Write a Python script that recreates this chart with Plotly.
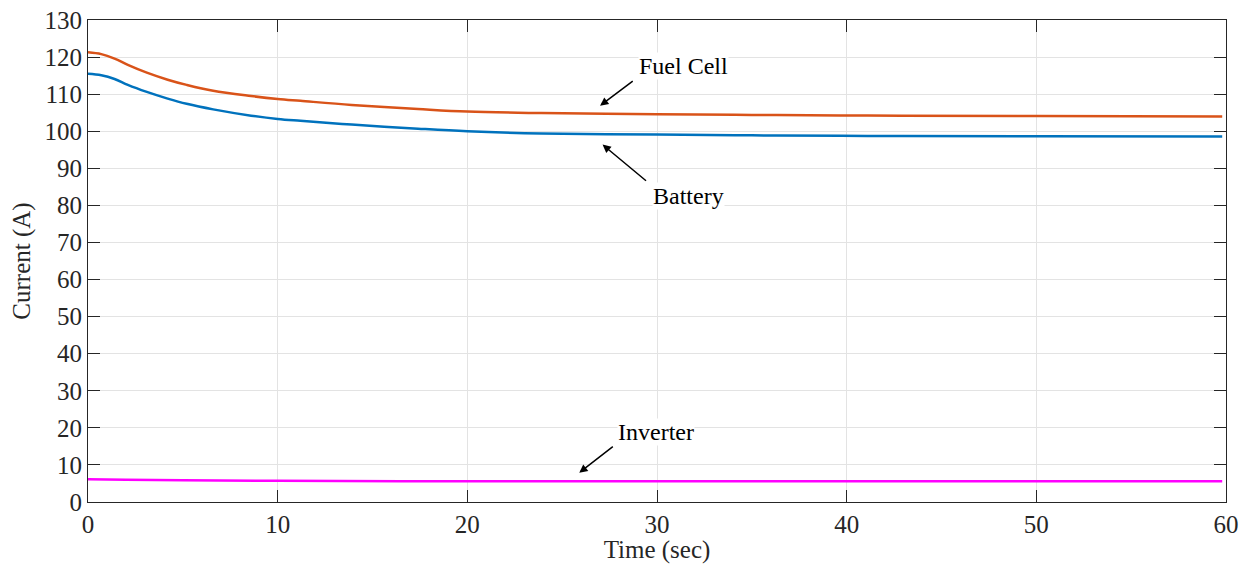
import plotly.graph_objects as go

# Data
time_fc = [0, 0.7, 1.4, 2.1, 3.1, 4.2, 5.2, 6.6, 8.6, 10, 11.2, 13.9, 17.4, 20, 23.9, 30, 35, 39.7, 42.9, 50, 59.8]
fuel_cell = [121.3, 120.8, 119.6, 117.9, 115.8, 113.9, 112.5, 110.9, 109.5, 108.7, 108.2, 107.1, 106.0, 105.3,
             104.9, 104.6, 104.4, 104.25, 104.2, 104.1, 104.0]
battery = [115.5, 115.1, 114.1, 112.5, 110.6, 108.8, 107.4, 105.9, 104.2, 103.3, 102.8, 101.8, 100.7, 100.0,
           99.4, 99.1, 98.9, 98.75, 98.7, 98.65, 98.6]
time_inv = [0, 2, 5, 10, 20, 30, 40, 59.8]
inverter = [6.15, 6.0, 5.85, 5.7, 5.6, 5.6, 5.6, 5.6]

x_ticks = [0, 10, 20, 30, 40, 50, 60]
y_ticks = list(range(0, 131, 10))

FONT = "Liberation Serif, Times New Roman, serif"
TXT = "#262626"

fig = go.Figure()
fig.add_trace(go.Scatter(x=time_fc, y=fuel_cell, mode="lines", name="Fuel Cell",
                         line=dict(color="#D95319", width=2.5, shape="spline", smoothing=1.0)))
fig.add_trace(go.Scatter(x=time_fc, y=battery, mode="lines", name="Battery",
                         line=dict(color="#0072BD", width=2.5, shape="spline", smoothing=1.0)))
fig.add_trace(go.Scatter(x=time_inv, y=inverter, mode="lines", name="Inverter",
                         line=dict(color="#FF00FF", width=2.5, shape="spline", smoothing=1.0)))

axis_common = dict(showline=True, linecolor=TXT, linewidth=1, mirror="ticks", ticks="inside",
                   ticklen=12, tickwidth=1, tickcolor=TXT, showgrid=True, gridcolor="#e3e3e3",
                   gridwidth=1, zeroline=False, automargin=False, ticklabeloverflow="allow",
                   tickfont=dict(family=FONT, size=25, color=TXT))

fig.update_layout(
    width=1247, height=564,
    margin=dict(l=88, r=21, t=20, b=62),
    paper_bgcolor="white", plot_bgcolor="white",
    showlegend=False,
    font=dict(family=FONT, color=TXT),
    xaxis=dict(range=[0, 60], tickvals=x_ticks,
               title=dict(text="Time (sec)", font=dict(family=FONT, size=25, color=TXT), standoff=0),
               **axis_common),
    yaxis=dict(range=[0, 130], tickvals=y_ticks,
               title=dict(text="Current (A)", font=dict(family=FONT, size=25, color=TXT), standoff=6),
               **axis_common),
)

arrows = [
    # (head x, head y, tail x, tail y, text, text x, text y)
    (27.0, 106.9, 28.8, 113.8, "Fuel Cell", 31.4, 117.7),
    (27.13, 96.4, 29.5, 86.3, "Battery", 31.64, 82.6),
    (25.9, 7.9, 27.75, 15.25, "Inverter", 29.97, 18.8),
]
for hx, hy, tx, ty, text, lx, ly in arrows:
    fig.add_annotation(x=hx, y=hy, ax=tx, ay=ty, xref="x", yref="y", axref="x", ayref="y",
                       text="", showarrow=True, arrowhead=2, arrowsize=1.1, arrowwidth=1.5,
                       arrowcolor="black")
    fig.add_annotation(x=lx, y=ly, xref="x", yref="y", text=text, showarrow=False,
                       bgcolor="white", borderpad=0,
                       font=dict(family=FONT, size=24, color="black"))

# remove the default 8px page margin so the figure sits at the window's top-left corner
fig.write_html("out.html", config={"displayModeBar": False},
               post_script="document.body.style.margin='0';document.body.style.overflow='hidden';")
